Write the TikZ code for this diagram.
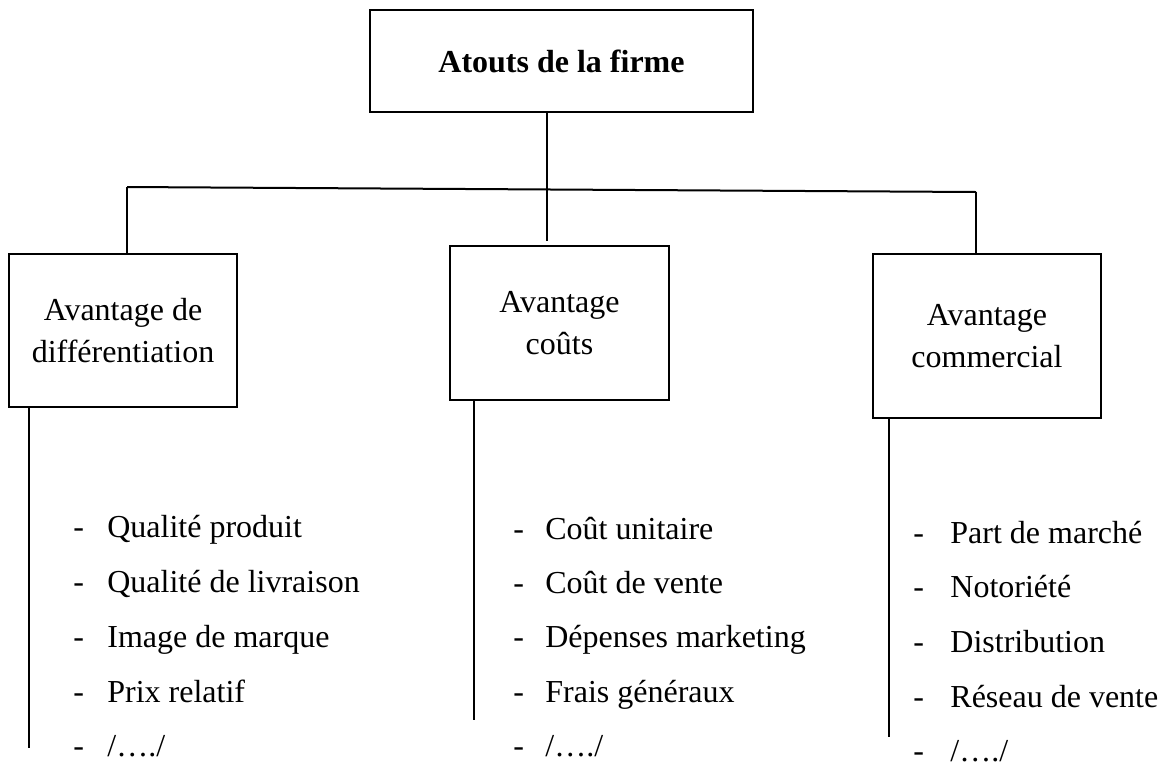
\documentclass[tikz,border=0pt]{standalone}
\usepackage{fontspec}
\setmainfont{Liberation Serif}
\begin{document}
\begin{tikzpicture}[x=0.5pt, y=-0.5pt, font=\fontsize{16}{21}\selectfont,
  box/.style={draw, line width=0.6pt, align=center, inner sep=0pt},
  link/.style={line width=1pt},
  item/.style={anchor=base west, inner sep=0pt}]
  \useasboundingbox (0,0) rectangle (1166,772);

  \node[box, minimum width=191.5pt, minimum height=51pt, font=\fontsize{16}{21}\selectfont\bfseries] (AT) at (561.5,61) {Atouts de la firme};
  \node[box, minimum width=114pt, minimum height=76.5pt] (DI) at (123,330.5) {Avantage de\\différentiation};
  \node[box, minimum width=109.5pt, minimum height=77pt] (CO) at (559.5,323) {Avantage\\coûts};
  \node[box, minimum width=114pt, minimum height=82pt] (CM) at (987,336) {Avantage\\commercial};

  \coordinate (BL) at (127,187);
  \coordinate (BR) at (976,192);
  \coordinate (MD) at (547,241);
  \draw[link] (BL) -- (BR);
  \draw[link] (AT.south -| MD) -- (MD);
  \draw[link] (BL) -- (DI.north -| BL);
  \draw[link] (BR) -- (CM.north -| BR);

  \coordinate (DIend) at (29,748);
  \coordinate (COend) at (474,720);
  \coordinate (CMend) at (889,737);
  \draw[link] (DI.south -| DIend) -- (DIend);
  \draw[link] (CO.south -| COend) -- (COend);
  \draw[link] (CM.south -| CMend) -- (CMend);

  % differentiation
  \node[item] (DI1) at (73,537) {\makebox[17pt][l]{-}Qualité produit};
  \node[item] (DI2) at (73,592) {\makebox[17pt][l]{-}Qualité de livraison};
  \node[item] (DI3) at (73,647) {\makebox[17pt][l]{-}Image de marque};
  \node[item] (DI4) at (73,702) {\makebox[17pt][l]{-}Prix relatif};
  \node[item] (DI5) at (73,756) {\makebox[17pt][l]{-}/…./};

  % couts
  \node[item] (CO1) at (513,539) {\makebox[16pt][l]{-}Coût unitaire};
  \node[item] (CO2) at (513,593) {\makebox[16pt][l]{-}Coût de vente};
  \node[item] (CO3) at (513,647) {\makebox[16pt][l]{-}Dépenses marketing};
  \node[item] (CO4) at (513,702) {\makebox[16pt][l]{-}Frais généraux};
  \node[item] (CO5) at (513,756) {\makebox[16pt][l]{-}/…./};

  % commercial
  \node[item] (CM1) at (913,543) {\makebox[18.5pt][l]{-}Part de marché};
  \node[item] (CM2) at (913,597) {\makebox[18.5pt][l]{-}Notoriété};
  \node[item] (CM3) at (913,652) {\makebox[18.5pt][l]{-}Distribution};
  \node[item] (CM4) at (913,707) {\makebox[18.5pt][l]{-}Réseau de vente};
  \node[item] (CM5) at (913,761) {\makebox[18.5pt][l]{-}/…./};
\end{tikzpicture}
\end{document}
